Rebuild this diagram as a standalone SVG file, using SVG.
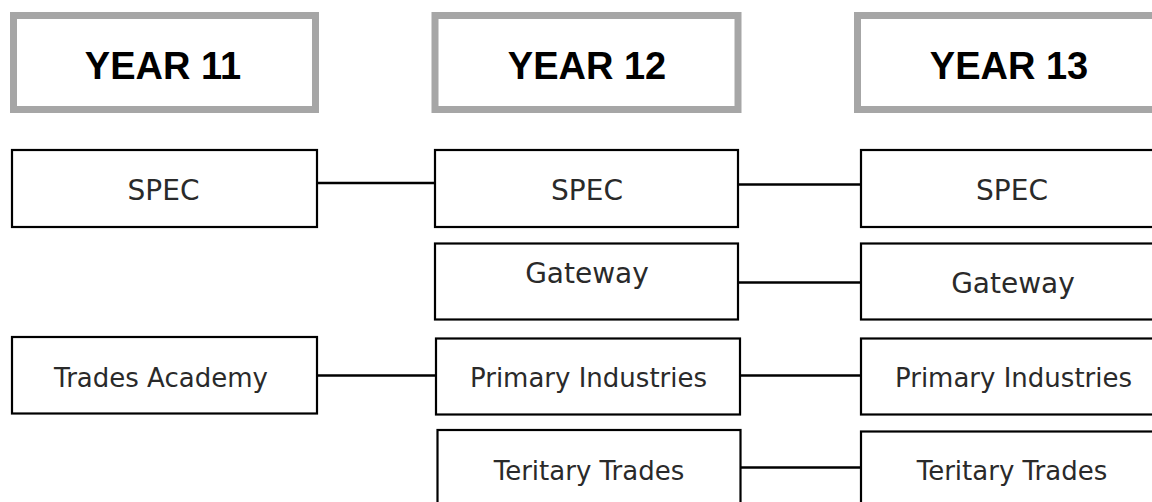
<svg xmlns="http://www.w3.org/2000/svg" width="1152" height="502" viewBox="0 0 1152 502">
<style>
.hdr{fill:#fff;stroke:#A6A6A6;stroke-width:7}
.hdrt{font-family:"Liberation Sans",Arial,sans-serif;font-weight:bold;font-size:38px;fill:#000;text-anchor:middle}
.box{fill:#fff;stroke:#000;stroke-width:2.2}
.lbl{font-family:"DejaVu Sans",sans-serif;font-size:26px;fill:#2a2a2a;text-anchor:middle}
.big{font-size:28px}
.con{stroke:#000;stroke-width:2.5;fill:none}
</style>
<rect width="1152" height="502" fill="#fff"/>
<g id="year11"><rect class="hdr" x="13.5" y="15.5" width="302" height="94"/><text class="hdrt" x="163" y="79">YEAR 11</text></g>
<g id="year12"><rect class="hdr" x="435" y="15.5" width="303" height="94"/><text class="hdrt" x="587" y="79">YEAR 12</text></g>
<g id="year13"><rect class="hdr" x="857.5" y="15.5" width="303" height="94"/><text class="hdrt" x="1009" y="79">YEAR 13</text></g>
<g id="connectors">
<line class="con" x1="317" y1="183" x2="435" y2="183"/>
<line class="con" x1="738" y1="184.5" x2="861" y2="184.5"/>
<line class="con" x1="738" y1="282.5" x2="861" y2="282.5"/>
<line class="con" x1="317" y1="375.5" x2="436" y2="375.5"/>
<line class="con" x1="740" y1="375.5" x2="861" y2="375.5"/>
<line class="con" x1="740" y1="467.5" x2="861" y2="467.5"/>
</g>
<g id="y11-spec"><rect class="box" x="12" y="150" width="305" height="77"/><text class="lbl big" x="163.5" y="200">SPEC</text></g>
<g id="y12-spec"><rect class="box" x="435" y="150" width="303" height="77"/><text class="lbl big" x="587" y="200">SPEC</text></g>
<g id="y13-spec"><rect class="box" x="861" y="150" width="310" height="77"/><text class="lbl big" x="1012" y="200">SPEC</text></g>
<g id="y12-gateway"><rect class="box" x="435" y="243.5" width="303" height="76"/><text class="lbl big" x="587" y="283">Gateway</text></g>
<g id="y13-gateway"><rect class="box" x="861" y="243.5" width="310" height="76"/><text class="lbl big" x="1013" y="293">Gateway</text></g>
<g id="y11-trades"><rect class="box" x="12" y="337" width="305" height="76.5"/><text class="lbl" x="161" y="387">Trades Academy</text></g>
<g id="y12-primary"><rect class="box" x="436" y="338.5" width="304" height="76"/><text class="lbl" x="588.5" y="387">Primary Industries</text></g>
<g id="y13-primary"><rect class="box" x="861" y="338.5" width="310" height="76"/><text class="lbl" x="1013.5" y="387">Primary Industries</text></g>
<g id="y12-teritary"><rect class="box" x="437.5" y="430" width="303" height="90"/><text class="lbl" x="589" y="480">Teritary Trades</text></g>
<g id="y13-teritary"><rect class="box" x="861" y="431.5" width="310" height="90"/><text class="lbl" x="1012" y="480">Teritary Trades</text></g>
</svg>
